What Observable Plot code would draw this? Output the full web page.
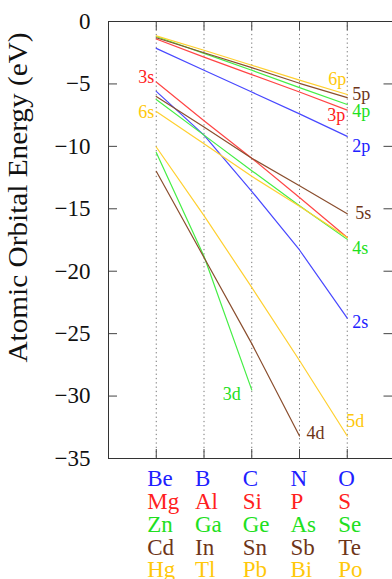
<!DOCTYPE html>
<html><head><meta charset="utf-8">
<script src="https://cdn.jsdelivr.net/npm/d3@7"></script>
<script src="https://cdn.jsdelivr.net/npm/@observablehq/plot@0.6"></script>
<style>html,body{margin:0;padding:0;background:#fff;overflow:hidden}
svg text{font-family:"Liberation Serif","Times New Roman",serif}</style>
</head><body><div id="chart"></div>
<script>
// ---- data ----
const elementsRow1 = ["Be","B","C","N","O"];
const elementsRow2 = ["Mg","Al","Si","P","S"];
const elementsRow3 = ["Zn","Ga","Ge","As","Se"];
const elementsRow4 = ["Cd","In","Sn","Sb","Te"];
const elementsRow5 = ["Hg","Tl","Pb","Bi","Po"];
const yTicks = [0,-5,-10,-15,-20,-25,-30,-35];

// orbital energies (eV) read at the Be, B, C, N, O columns
const e2s = [-5.6, -9.1, -13.6, -18.3, -23.75];
const e2p = [-2.15, -3.9, -5.65, -7.4, -9.2];
const e3s = [-4.85, -7.95, -10.95, -14.1, -17.3];
const e3p = [-1.4, -2.85, -4.25, -5.65, -7.1];
const e4s = [-6.25, -9.1, -11.95, -14.75, -17.45];
const e4p = [-1.2, -2.55, -3.9, -5.3, -6.65];
const e3d = [-10.5, -18.8, -29.5];
const e5s = [-6.0, -8.45, -10.95, -13.15, -15.4];
const e5p = [-1.3, -2.5, -3.7, -4.95, -6.1];
const e4d = [-12.0, -18.9, -25.8, -33.2];
const e6s = [-7.2, -9.8, -12.4, -14.8, -17.3];
const e6p = [-1.15, -2.3, -3.5, -4.7, -5.85];
const e5d = [-10.05, -15.55, -21.3, -27.15, -33.2];

const orbitalNames = ["2s","2p","3s","3p","4s","4p","3d","5s","5p","4d","6s","6p","5d"];
const orbitalValues = [e2s,e2p,e3s,e3p,e4s,e4p,e3d,e5s,e5p,e4d,e6s,e6p,e5d];
const orbitalRow = [0,0,1,1,2,2,2,3,3,3,4,4,4];

// ---- styles ----
const lineColors = ["#4848ff","#ff4545","#45ee45","#8a4e2e","#ffd030"];
const textColors = ["#2020ff","#ff2020","#20e020","#6e3518","#ffc80a"];
const elementRows = [elementsRow1,elementsRow2,elementsRow3,elementsRow4,elementsRow5];
const rowDy = [27, 50, 73.5, 96, 118.5];
// label placement: [end ("first"/"last"), dx, dy, textAnchor]
const labelStyle = {
  "3s": ["first", -2, -5, "end"],
  "6s": ["first", -2, 1, "end"],
  "2s": ["last", 5, 4, "start"],
  "2p": ["last", 5, 10, "start"],
  "3p": ["last", -2, 5, "end"],
  "4s": ["last", 5, 9, "start"],
  "4p": ["last", 5, 7, "start"],
  "3d": ["last", -11, 4, "end"],
  "5s": ["last", 8, -1, "start"],
  "5p": ["last", 5, -3, "start"],
  "4d": ["last", 7, -3, "start"],
  "6p": ["last", -1, -15, "end"],
  "5d": ["last", -1, -15, "start"]
};

const W = 392, Hh = 579;
const mL = 108, mR = -2.5, mT = 21, mB = 121;
const frameW = W - mL - mR, frameH = Hh - mT - mB;
const cols = [1,2,3,4,5];
const font = "Liberation Serif";

const lineData = orbitalNames.flatMap((name, k) =>
  orbitalValues[k].map((v, i) => ({orb: name, row: orbitalRow[k], x: i + 1, y: v})));

const labelMarks = orbitalNames.map((name, k) => {
  const [end, dx, dy, anchor] = labelStyle[name];
  const vals = orbitalValues[k];
  const i = end === "first" ? 0 : vals.length - 1;
  return Plot.text([{x: i + 1, y: vals[i], t: name}], {
    x: "x", y: "y", text: "t", dx, dy, textAnchor: anchor,
    fill: textColors[orbitalRow[k]], fontSize: 18, fontFamily: font
  });
});

const rowMarks = elementRows.map((row, r) =>
  Plot.text(row, {
    x: (d, i) => i + 1, text: d => d, frameAnchor: "bottom",
    dy: rowDy[r], dx: -9, textAnchor: "start", lineAnchor: "bottom",
    fill: textColors[r], fontSize: 23, fontFamily: font
  }));

const chart = Plot.plot({
  width: W, height: Hh,
  marginLeft: mL, marginRight: mR, marginTop: mT, marginBottom: mB,
  style: {fontFamily: font, background: "#fff", overflow: "visible"},
  x: {domain: [0, 6], axis: null},
  y: {domain: [-35, 0], axis: null},
  color: {type: "ordinal", domain: [0,1,2,3,4], range: lineColors},
  marks: [
    Plot.ruleX(cols, {x: d => d, stroke: "#777", strokeDasharray: "1.3,3"}),
    Plot.ruleX(cols, {x: d => d, stroke: "#444", insetTop: frameH - 9}),
    Plot.ruleX(cols, {x: d => d, stroke: "#444", insetBottom: frameH - 9}),
    Plot.ruleY(yTicks, {y: d => d, stroke: "#444", insetRight: frameW - 9}),
    Plot.ruleY(yTicks, {y: d => d, stroke: "#444", insetLeft: frameW - 11}),
    Plot.ruleX([0], {stroke: "#333"}),
    Plot.ruleY([-35, 0], {stroke: "#333"}),
    Plot.line(lineData, {x: "x", y: "y", z: "orb", stroke: "row", strokeWidth: 1.2}),
    ...labelMarks,
    ...rowMarks,
    Plot.axisY(yTicks, {tickSize: 0, tickPadding: 18, fontSize: 23, fontFamily: font, label: null, fill: "#111"})
  ]
});

d3.select(chart).append("text")
  .attr("transform", "translate(27,197.5) rotate(-90)")
  .attr("text-anchor", "middle")
  .attr("font-size", 27)
  .attr("font-family", font)
  .attr("textLength", 330)
  .attr("lengthAdjust", "spacingAndGlyphs")
  .attr("fill", "#111")
  .text("Atomic Orbital Energy (eV)");

document.getElementById("chart").appendChild(chart);
</script>
</body></html>
